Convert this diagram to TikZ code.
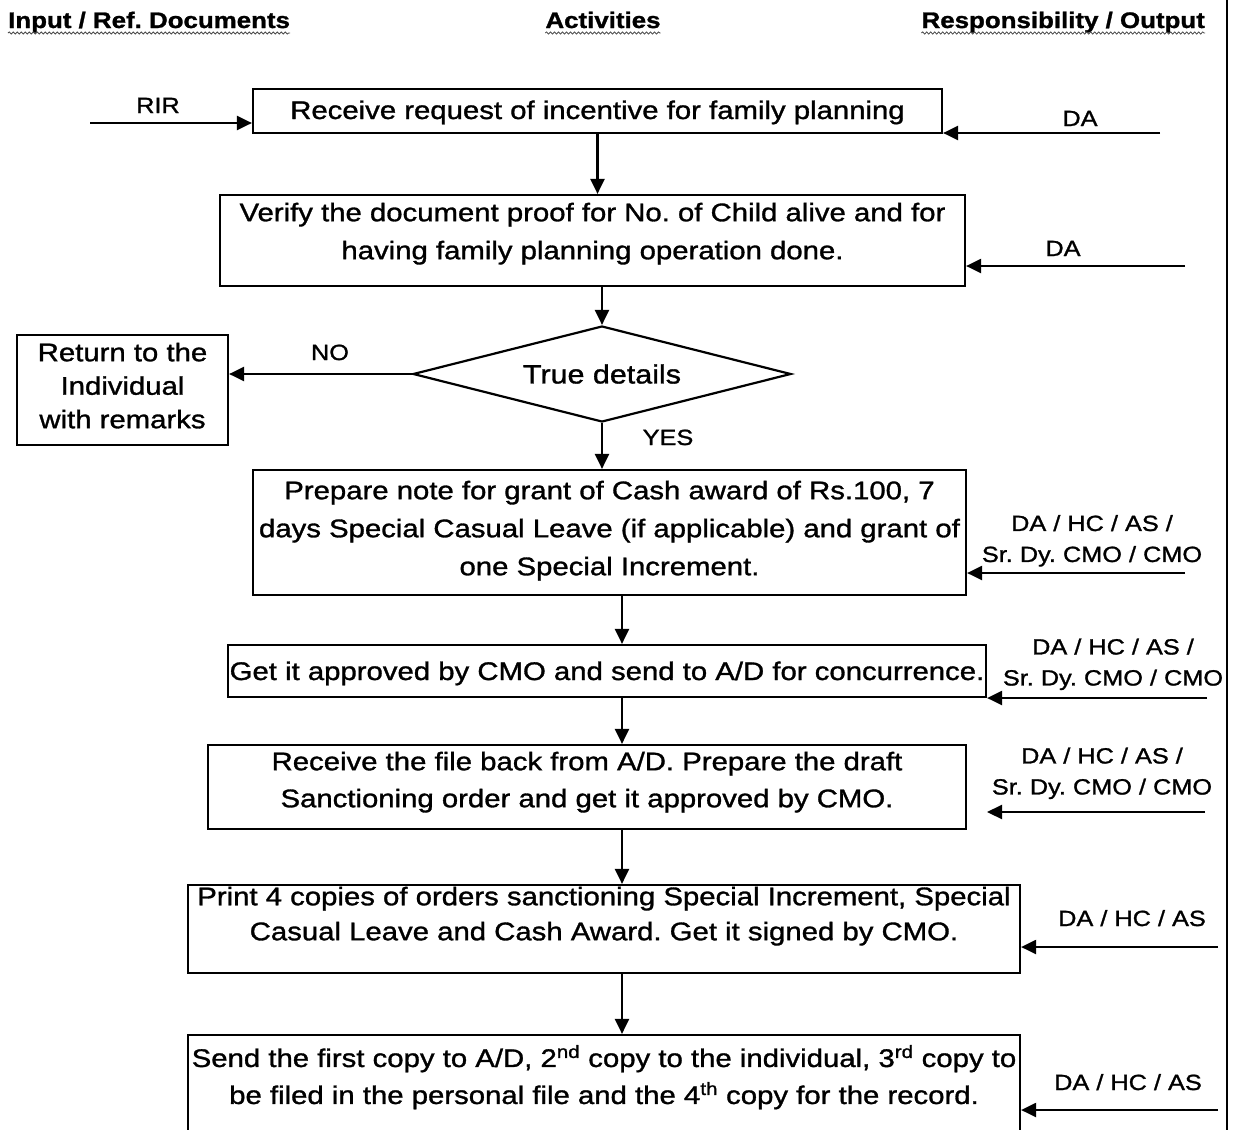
\documentclass[tikz,border=0pt]{standalone}
\usepackage{fontspec}
\setmainfont[FakeStretch=1.15,FakeBold=1.2]{Liberation Sans}
\frenchspacing
\usetikzlibrary{arrows.meta,shapes.geometric,decorations.pathmorphing}

\newcommand\boxfont{\fontsize{25.5}{38}\selectfont}
\newcommand\tagfont{\fontsize{22}{31}\selectfont}
\newcommand\headfont{\fontsize{22.5}{27}\selectfont\bfseries}
\newcommand\topstrut{\rule{0pt}{24pt}}
\newcommand\botstrut{\rule[-8pt]{0pt}{8pt}}

\tikzset{
  box/.style={draw, line width=2.2pt, rectangle, inner sep=0pt},
  txt/.style={inner sep=0pt, align=center, font=\boxfont,
    execute at begin node=\topstrut, execute at end node=\botstrut},
  tag/.style={txt, font=\tagfont},
  arr/.style={line width=2.2pt, -{Triangle[length=15pt,width=14pt]}},
  head/.style={inner sep=0pt, font=\headfont},
  wavy/.style={decorate, decoration={snake, amplitude=1.1pt, segment length=4pt},
    line width=0.8pt, black!70}
}

\begin{document}
\begin{tikzpicture}[x=1pt,y=-1pt]
\useasboundingbox (0,0) rectangle (1243,1130);
\clip (0,0) rectangle (1243,1130);

% column headings with wavy underline
\node[head, anchor=base west] (h1) at (8,28) {Input / Ref. Documents};
\node[head, anchor=base] (h2) at (603,28) {Activities};
\node[head, anchor=base east] (h3) at (1205,28) {Responsibility / Output};
\foreach \h in {h1,h2,h3}
  \draw[wavy] ([yshift=-5pt]\h.base west) -- ([yshift=-5pt]\h.base east);

% right margin rule
\coordinate (rt) at (1227,0);
\coordinate (rb) at (1227,1130);
\draw[line width=2.2pt] (rt) -- (rb);

% process boxes
\node[box, minimum width=689, minimum height=44] (b1) at (597.5,111) {};
\node[txt] (t1) at (597.5,111) {Receive request of incentive for family planning};

\node[box, minimum width=745, minimum height=91] (b2) at (592.5,240.5) {};
\node[txt] (t2) at (592.5,235) {Verify the document proof for No. of Child alive and for\\having family planning operation done.};

\node[draw, line width=2.2pt, diamond, aspect=3.94, minimum width=378, minimum height=96,
      inner sep=0pt, font=\fontsize{26.5}{30}\selectfont] (d) at (602,374) {True details};

\node[box, minimum width=211, minimum height=110] (ret) at (122.5,390) {};
\node[txt, font=\fontsize{25.5}{33.5}\selectfont] (tret) at (122.5,389.5) {Return to the\\Individual\\with remarks};

\node[box, minimum width=713, minimum height=125] (b3) at (609.5,532.5) {};
\node[txt] (t3) at (609.5,532) {Prepare note for grant of Cash award of Rs.100, 7\\days Special Casual Leave (if applicable) and grant of\\one Special Increment.};

\node[box, minimum width=758, minimum height=52] (b4) at (607,671) {};
\node[txt] (t4) at (607,672) {Get it approved by CMO and send to A/D for concurrence.};

\node[box, minimum width=758, minimum height=84] (b5) at (587,787) {};
\node[txt, font=\fontsize{25.5}{37}\selectfont] (t5) at (587,783.5) {Receive the file back from A/D. Prepare the draft\\Sanctioning order and get it approved by CMO.};

\node[box, minimum width=832, minimum height=88] (b6) at (604,929) {};
\node[txt, font=\fontsize{25.5}{35}\selectfont] (t6) at (604,917.5) {Print 4 copies of orders sanctioning Special Increment, Special\\Casual Leave and Cash Award. Get it signed by CMO.};

\node[box, minimum width=832, minimum height=105] (b7) at (604,1087.5) {};
\node[txt, font=\fontsize{25.5}{37}\selectfont] (t7) at (604,1078.5) {Send the first copy to A/D, 2\textsuperscript{nd} copy to the individual, 3\textsuperscript{rd} copy to\\be filed in the personal file and the 4\textsuperscript{th} copy for the record.};

% labels
\node[tag] (rirl) at (158,105) {RIR};
\node[tag] (da1l) at (1080,118) {DA};
\node[tag] (da2l) at (1063,248) {DA};
\node[tag] (nol) at (330,352) {NO};
\node[tag] (yesl) at (668,437) {YES};
\node[tag] (l3l) at (1092,542.5) {DA / HC / AS /\\Sr. Dy. CMO / CMO};
\node[tag] (l4l) at (1113,666) {DA / HC / AS /\\Sr. Dy. CMO / CMO};
\node[tag] (l5l) at (1102,775) {DA / HC / AS /\\Sr. Dy. CMO / CMO};
\node[tag] (l6l) at (1132,918) {DA / HC / AS};
\node[tag] (l7l) at (1128,1082) {DA / HC / AS};

% inputs and responsibilities
\coordinate (rir) at (90,123);
\draw[arr] (rir) -- (rir -| b1.west);
\coordinate (da1) at (1160,133);
\draw[arr] (da1) -- (da1 -| b1.east);
\coordinate (da2) at (1185,266);
\draw[arr] (da2) -- (da2 -| b2.east);
\coordinate (l3) at (1185,573);
\draw[arr] (l3) -- (l3 -| b3.east);
\coordinate (l4) at (1207,698);
\draw[arr] (l4) -- (l4 -| b4.east);
\coordinate (l5) at (1205,812);
\coordinate (l5e) at (987,812);
\draw[arr] (l5) -- (l5e);
\coordinate (l6) at (1218,947);
\draw[arr] (l6) -- (l6 -| b6.east);
\coordinate (l7) at (1218,1110);
\draw[arr] (l7) -- (l7 -| b7.east);

% main flow
\draw[arr] (b1.south) -- (b1.south |- b2.north);
\draw[arr] (d.north |- b2.south) -- (d.north);
\draw[arr] (d.west) -- (d.west -| ret.east);
\draw[arr] (d.south) -- (d.south |- b3.north);
\coordinate (col) at (622,0);
\draw[arr] (col |- b3.south) -- (col |- b4.north);
\draw[arr] (col |- b4.south) -- (col |- b5.north);
\draw[arr] (col |- b5.south) -- (col |- b6.north);
\draw[arr] (col |- b6.south) -- (col |- b7.north);
\end{tikzpicture}
\end{document}
